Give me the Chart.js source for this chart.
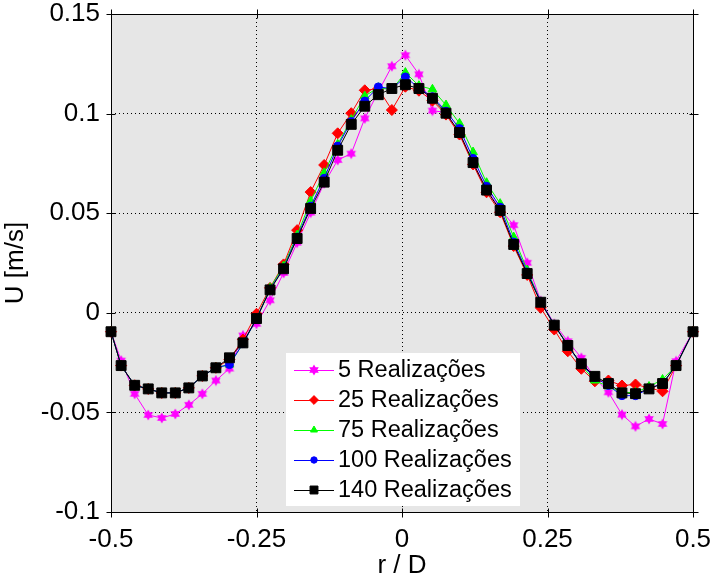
<!DOCTYPE html>
<html>
<head>
<meta charset="utf-8">
<script src="https://cdn.jsdelivr.net/npm/chart.js@4.4.1/dist/chart.umd.min.js"></script>
<style>
  html, body { margin: 0; padding: 0; background: #fff; }
  canvas { display: block; }
</style>
</head>
<body>
<canvas id="lineChart" width="717" height="579"></canvas>
<script>
// r / D positions of the measuring points
const rD = [-0.5, -0.4826, -0.4593, -0.4360, -0.4128, -0.3895, -0.3663, -0.3430, -0.3198, -0.2965, -0.2733,
  -0.25, -0.2267, -0.2035, -0.1802, -0.1570, -0.1337, -0.1105, -0.0872, -0.0640, -0.0407, -0.0174,
  0.0058, 0.0291, 0.0523, 0.0756, 0.0988, 0.1221, 0.1453, 0.1686, 0.1919, 0.2151, 0.2384,
  0.2616, 0.2849, 0.3081, 0.3314, 0.3547, 0.3779, 0.4012, 0.4244, 0.4477, 0.4709, 0.5]

// U [m/s] for each number of realizations
const u5 = [-0.0095, -0.0240, -0.0407, -0.0513, -0.0528, -0.0508, -0.0462, -0.0407, -0.0340, -0.0280, -0.0114,
  -0.0055, 0.0063, 0.0200, 0.0352, 0.0503, 0.0650, 0.0767, 0.0799, 0.0976, 0.1110, 0.1238,
  0.1293, 0.1197, 0.1015, 0.1005, 0.0900, 0.0754, 0.0620, 0.0520, 0.0440, 0.0251, 0.0060,
  -0.0055, -0.0143, -0.0226, -0.0327, -0.0399, -0.0511, -0.0570, -0.0533, -0.0558, -0.0243, -0.0095]
const u25 = [-0.0095, -0.0265, -0.0364, -0.0382, -0.0402, -0.0402, -0.0377, -0.0317, -0.0276, -0.0235, -0.0134,
  -0.0005, 0.0125, 0.0243, 0.0415, 0.0606, 0.0742, 0.0901, 0.1002, 0.1117, 0.1125, 0.1018,
  0.1135, 0.1115, 0.1065, 0.0995, 0.0895, 0.0745, 0.0605, 0.0505, 0.0335, 0.0190, 0.0025,
  -0.0084, -0.0193, -0.0281, -0.0344, -0.0340, -0.0365, -0.0360, -0.0377, -0.0394, -0.0265, -0.0095]
const u75 = [-0.0095, -0.0265, -0.0364, -0.0382, -0.0402, -0.0402, -0.0377, -0.0317, -0.0276, -0.0260, -0.0155,
  -0.0030, 0.0125, 0.0235, 0.0390, 0.0561, 0.0703, 0.0846, 0.0970, 0.1088, 0.1130, 0.1120,
  0.1206, 0.1140, 0.1122, 0.1043, 0.0951, 0.0807, 0.0653, 0.0548, 0.0380, 0.0215, 0.0055,
  -0.0060, -0.0160, -0.0265, -0.0340, -0.0370, -0.0400, -0.0400, -0.0370, -0.0335, -0.0265, -0.0095]
const u100 = [-0.0095, -0.0265, -0.0364, -0.0382, -0.0402, -0.0402, -0.0377, -0.0317, -0.0276, -0.0260, -0.0155,
  -0.0030, 0.0118, 0.0225, 0.0380, 0.0535, 0.0675, 0.0837, 0.0960, 0.1063, 0.1134, 0.1125,
  0.1184, 0.1128, 0.1085, 0.1012, 0.0925, 0.0775, 0.0635, 0.0530, 0.0355, 0.0205, 0.0055,
  -0.0060, -0.0165, -0.0260, -0.0325, -0.0365, -0.0416, -0.0416, -0.0380, -0.0355, -0.0265, -0.0095]
const u140 = [-0.0095, -0.0265, -0.0364, -0.0382, -0.0402, -0.0402, -0.0377, -0.0317, -0.0276, -0.0226, -0.0151,
  -0.0029, 0.0115, 0.0221, 0.0373, 0.0524, 0.0656, 0.0816, 0.0946, 0.1037, 0.1095, 0.1126,
  0.1145, 0.1126, 0.1077, 0.1002, 0.0905, 0.0754, 0.0616, 0.0514, 0.0343, 0.0197, 0.0053,
  -0.0062, -0.0164, -0.0256, -0.0319, -0.0355, -0.0402, -0.0406, -0.0382, -0.0355, -0.0265, -0.0095]

const seriesLabels = ['5 Realizações', '25 Realizações', '75 Realizações', '100 Realizações', '140 Realizações']

const xTicks = [-0.5, -0.25, 0, 0.25, 0.5]
const xTickLabels = ['-0.5', '-0.25', '0', '0.25', '0.5']
const yTicks = [-0.1, -0.05, 0, 0.05, 0.1, 0.15]
const yTickLabels = ['-0.1', '-0.05', '0', '0.05', '0.1', '0.15']

const FONT = 'Liberation Sans, Arial, sans-serif'

// filled six-point star used for the 5-realization curve
const hexagram = (color, size) => {
    const c = document.createElement('canvas')
    c.width = c.height = size
    const g = c.getContext('2d')
    const R = size / 2 - 0.5
    g.beginPath()
    for (let i = 0; i < 12; i++) {
        const a = -Math.PI / 2 + i * Math.PI / 6
        const rad = i % 2 ? R / Math.sqrt(3) : R
        g.lineTo(size / 2 + rad * Math.cos(a), size / 2 + rad * Math.sin(a))
    }
    g.closePath()
    g.fillStyle = color
    g.fill()
    return c
}

const toPoints = (ys) => rD.map((x, i) => ({ x: x, y: ys[i] }))

const makeSet = (label, ys, color, style, radius, order) => ({
    label: label,
    data: toPoints(ys),
    borderColor: color,
    backgroundColor: color,
    borderWidth: 1,
    pointStyle: style,
    pointRadius: radius,
    pointBackgroundColor: color,
    pointBorderColor: color,
    pointBorderWidth: 1,
    tension: 0,
    clip: false,
    order: order
})

// gray plot area
const plotBackground = {
    id: 'plotBackground',
    beforeDraw(chart) {
        const { ctx, chartArea: a } = chart
        ctx.save()
        ctx.fillStyle = '#e6e6e6'
        ctx.fillRect(a.left, a.top, a.right - a.left, a.bottom - a.top)
        ctx.restore()
    }
}

// box round the axes with small ticks on every side
const axesFrame = {
    id: 'axesFrame',
    beforeDatasetsDraw(chart) {
        const { ctx, chartArea: a, scales } = chart
        ctx.save()
        ctx.strokeStyle = '#000'
        ctx.lineWidth = 1
        const L = Math.round(a.left) + 0.5, R = Math.round(a.right) + 0.5
        const T = Math.round(a.top) + 0.5, B = Math.round(a.bottom) + 0.5
        ctx.strokeRect(L, T, R - L, B - T)
        ctx.beginPath()
        xTicks.forEach(v => {
            const px = Math.round(scales.x.getPixelForValue(v)) + 0.5
            ctx.moveTo(px, B - 4); ctx.lineTo(px, B + 5)
            ctx.moveTo(px, T + 4); ctx.lineTo(px, T - 5)
        })
        yTicks.forEach(v => {
            const py = Math.round(scales.y.getPixelForValue(v)) + 0.5
            ctx.moveTo(L - 5, py); ctx.lineTo(L + 4, py)
            ctx.moveTo(R + 5, py); ctx.lineTo(R - 4, py)
        })
        ctx.stroke()
        ctx.restore()
    }
}

// legend box inside the plot, lower middle
const boxLegend = {
    id: 'boxLegend',
    afterDraw(chart) {
        const { ctx } = chart
        ctx.save()
        ctx.fillStyle = '#fff'
        ctx.fillRect(286, 353, 234, 153)
        ctx.font = '23.5px ' + FONT
        ctx.textBaseline = 'middle'
        chart.data.datasets.forEach((ds, i) => {
            const y = 370 + i * 30
            ctx.strokeStyle = ds.borderColor
            ctx.lineWidth = 1
            ctx.beginPath()
            ctx.moveTo(294, y + 0.5)
            ctx.lineTo(334, y + 0.5)
            ctx.stroke()
            ctx.fillStyle = ds.pointBackgroundColor
            Chart.helpers.drawPoint(ctx, {
                pointStyle: ds.pointStyle,
                radius: ds.pointRadius * 0.8,
                rotation: 0,
                borderWidth: 1
            }, 314, y)
            ctx.fillStyle = '#000'
            ctx.fillText(ds.label, 338, y + 1)
        })
        ctx.restore()
    }
}

const ctx = document.getElementById('lineChart').getContext('2d')

new Chart(ctx, {
    type: 'line',
    data: {
        datasets: [
            makeSet(seriesLabels[0], u5, '#ff00ff', hexagram('#ff00ff', 12), 6, 5),
            makeSet(seriesLabels[1], u25, '#ff0000', 'rectRot', 5.5, 4),
            makeSet(seriesLabels[2], u75, '#00ff00', 'triangle', 5, 3),
            makeSet(seriesLabels[3], u100, '#0000ff', 'circle', 4, 2),
            makeSet(seriesLabels[4], u140, '#000000', 'rect', 7, 1)
        ]
    },
    options: {
        responsive: false,
        animation: false,
        devicePixelRatio: 1,
        layout: { padding: { left: 0, top: 14, right: 24, bottom: 0 } },
        plugins: {
            legend: { display: false },
            tooltip: { enabled: false }
        },
        scales: {
            x: {
                type: 'linear',
                min: -0.5,
                max: 0.5,
                afterBuildTicks: (scale) => { scale.ticks = xTicks.map(v => ({ value: v })) },
                afterFit: (scale) => {
                    scale.height = 67
                    scale.paddingLeft = 0
                    scale.paddingRight = 0
                },
                ticks: {
                    callback: (value, index) => xTickLabels[index],
                    color: '#000',
                    font: { family: FONT, size: 26 },
                    padding: 12,
                    maxRotation: 0,
                    autoSkip: false
                },
                grid: {
                    color: (c) => (c.index === 0 || c.index === xTicks.length - 1) ? 'rgba(0,0,0,0)' : '#000',
                    lineWidth: 1,
                    drawTicks: false
                },
                border: { display: false, dash: [1, 3] },
                title: {
                    display: true,
                    text: 'r / D',
                    color: '#000',
                    font: { family: FONT, size: 26, lineHeight: 1 },
                    padding: { top: 0, bottom: 0 }
                }
            },
            y: {
                type: 'linear',
                min: -0.1,
                max: 0.15,
                afterBuildTicks: (scale) => { scale.ticks = yTicks.map(v => ({ value: v })) },
                afterFit: (scale) => {
                    scale.width = 111
                    scale.paddingTop = 0
                    scale.paddingBottom = 0
                },
                ticks: {
                    callback: (value, index) => yTickLabels[index],
                    color: '#000',
                    font: { family: FONT, size: 26 },
                    padding: 11,
                    autoSkip: false
                },
                grid: {
                    color: (c) => (c.index === 0 || c.index === yTicks.length - 1) ? 'rgba(0,0,0,0)' : '#000',
                    lineWidth: 1,
                    drawTicks: false
                },
                border: { display: false, dash: [1, 3] },
                title: {
                    display: true,
                    text: 'U [m/s]',
                    color: '#000',
                    font: { family: FONT, size: 26, lineHeight: 1 },
                    padding: { top: 3, bottom: 0 }
                }
            }
        }
    },
    plugins: [plotBackground, axesFrame, boxLegend]
})
</script>
</body>
</html>
